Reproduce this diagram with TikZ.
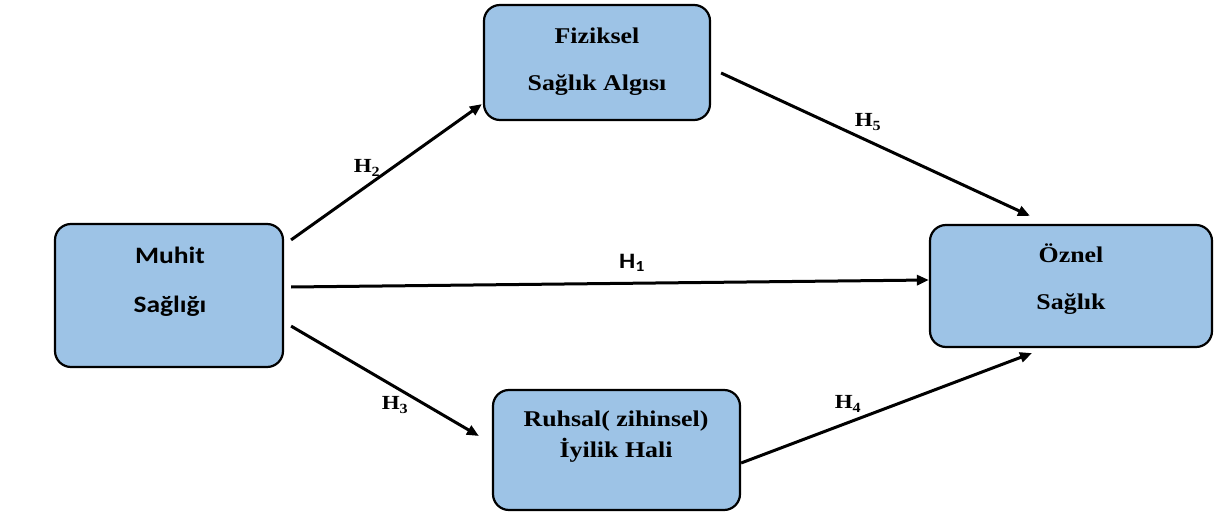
\documentclass[tikz,border=0pt]{standalone}
\usepackage{fontspec}
\setmainfont{Liberation Serif}
\newfontfamily\tnrfont[FakeStretch=1.15]{Liberation Serif}
\newfontfamily\calfont[FakeStretch=1.17]{Carlito}
\usetikzlibrary{arrows.meta}
\definecolor{boxblue}{RGB}{157,195,230}
\tikzset{
  box/.style={draw=black, line width=2.2pt, fill=boxblue, rounded corners=16pt, inner sep=0pt},
  serifbox/.style={align=center, font=\tnrfont\bfseries\fontsize{22.5}{47}\selectfont, inner sep=0pt},
  sansbox/.style={align=center, font=\calfont\bfseries\fontsize{23.5}{49}\selectfont, inner sep=0pt},
  hyp/.style={font=\tnrfont\bfseries\fontsize{20}{22}\selectfont, inner sep=0pt},
  hypsans/.style={font=\calfont\bfseries\fontsize{22}{24}\selectfont, inner sep=0pt},
  arr/.style={line width=3pt, -{Triangle[length=12pt,width=10pt]}}
}
\begin{document}
\begin{tikzpicture}[x=1pt,y=-1pt]
\useasboundingbox (0,0) rectangle (1221,513);
\fill[white] (0,0) rectangle (1221,513);
% boxes
\node[box, minimum width=226pt, minimum height=115pt] (f) at (597,62.5) {};
\node[box, minimum width=228pt, minimum height=143pt] (m) at (169,295.5) {};
\node[box, minimum width=282pt, minimum height=122pt] (o) at (1071,286) {};
\node[box, minimum width=247pt, minimum height=120pt] (r) at (616.5,450) {};
% texts
\node[serifbox] (ft) at (597,61.5) {Fiziksel\\Sağlık Algısı};
\node[sansbox] (mt) at (170,281.5) {Muhit\\Sağlığı};
\node[serifbox] (ot) at (1071,279.5) {Öznel\\Sağlık};
\node[serifbox, font=\tnrfont\bfseries\fontsize{22.5}{31}\selectfont] (rt) at (616,436.5) {Ruhsal( zihinsel)\\İyilik Hali};
% arrows
\draw[arr] ([shift={(7,17)}]m.north east) -- ([shift={(-1,-17)}]f.south west);
\draw[arr] ([shift={(7,-8.5)}]m.east) -- ([shift={(0,-6)}]o.west);
\draw[arr] ([shift={(7,-42)}]m.south east) -- ([shift={(-13,-14)}]r.west);
\draw[arr] ([shift={(0,13)}]r.east) -- ([shift={(-39,5)}]o.south);
\draw[arr] ([shift={(10,10.5)}]f.east) -- ([shift={(-41,-8)}]o.north);
% labels
\node[hyp] (h2) at (367,168) {H\textsubscript{2}};
\node[hypsans] (h1) at (632,263) {H\textsubscript{1}};
\node[hyp] (h3) at (395,405) {H\textsubscript{3}};
\node[hyp] (h4) at (848,404) {H\textsubscript{4}};
\node[hyp] (h5) at (868,122) {H\textsubscript{5}};
\end{tikzpicture}
\end{document}
